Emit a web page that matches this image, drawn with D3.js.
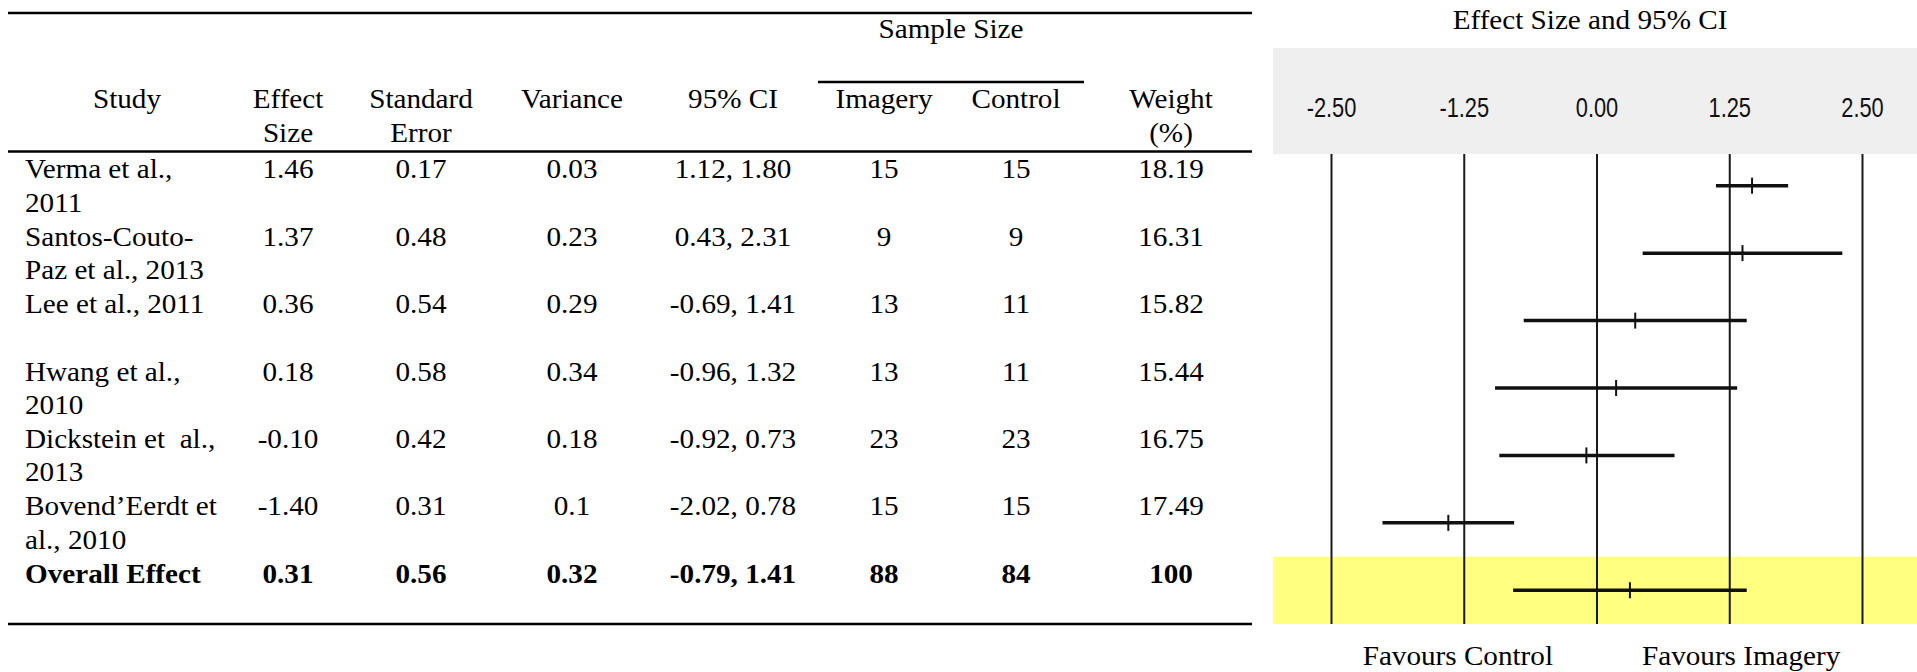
<!DOCTYPE html>
<html>
<head>
<meta charset="utf-8">
<script src="https://cdn.jsdelivr.net/npm/d3@7"></script>
<style>
  body { margin: 0; background: #fff; }
  text { font-family: "Liberation Serif", "Times New Roman", serif; font-size: 27px; fill: #000; white-space: pre; }
  .tick-label { font-family: "Liberation Sans", Arial, sans-serif; font-size: 28px; fill: #111; }
</style>
</head>
<body>
<div id="chart"></div>
<script>
// --- Data ---
const studies = [
    ["Verma et al.,", "2011"],
    ["Santos-Couto-", "Paz et al., 2013"],
    ["Lee et al., 2011"],
    ["Hwang et al.,", "2010"],
    ["Dickstein et  al.,", "2013"],
    ["Bovend\u2019Eerdt et", "al., 2010"],
    ["Overall Effect"]
];
const effectSize = [1.46, 1.37, 0.36, 0.18, -0.10, -1.40, 0.31];
const stdError = ["0.17", "0.48", "0.54", "0.58", "0.42", "0.31", "0.56"];
const variance = ["0.03", "0.23", "0.29", "0.34", "0.18", "0.1", "0.32"];
const ciText = ["1.12, 1.80", "0.43, 2.31", "-0.69, 1.41", "-0.96, 1.32", "-0.92, 0.73", "-2.02, 0.78", "-0.79, 1.41"];
const ciLower = [1.12, 0.43, -0.69, -0.96, -0.92, -2.02, -0.79];
const ciUpper = [1.80, 2.31, 1.41, 1.32, 0.73, -0.78, 1.41];
const imagery = [15, 9, 13, 13, 23, 15, 88];
const control = [15, 9, 11, 11, 23, 15, 84];
const weight = ["18.19", "16.31", "15.82", "15.44", "16.75", "17.49", "100"];
const ticks = [-2.5, -1.25, 0, 1.25, 2.5];
const tickLabels = ["-2.50", "-1.25", "0.00", "1.25", "2.50"];

// --- Layout ---
const W = 1917, H = 672;
const tableLeft = 8, tableRight = 1252;
const rowTop = 152, rowBottom = 624;
const lineGap = 33.5;
const stretch = 1.08; // the source text is a little wide

const fmt = v => (v < 0 ? "-" : "") + Math.abs(v).toFixed(2);

const svg = d3.select("#chart").append("svg")
    .attr("width", W)
    .attr("height", H);

svg.append("rect").attr("width", W).attr("height", H).attr("fill", "#fff");

// text helper, stretched horizontally around its anchor point
function label(x0, y0, t, anchor = "middle", weight = "normal") {
    return svg.append("text")
        .attr("transform", `translate(${x0},${y0}) scale(${stretch},1)`)
        .attr("text-anchor", anchor)
        .style("font-weight", weight)
        .text(t);
}

const rows = d3.range(studies.length);
const y = d3.scaleBand().domain(rows).range([rowTop, rowBottom]);
const rowMid = i => y(i) + y.bandwidth() / 2;
const baseline = i => rowMid(i) - 7.5;

// --- Table rules ---
const rule = (x1, x2, yy, w) => svg.append("line")
    .attr("x1", x1).attr("x2", x2).attr("y1", yy).attr("y2", yy)
    .attr("stroke", "#000").attr("stroke-width", w);
rule(tableLeft, tableRight, 13, 2.5);
rule(tableLeft, tableRight, 151.5, 2.5);
rule(tableLeft, tableRight, 624, 2.5);
rule(818, 1084, 82, 2.5);

// --- Table header ---
label(951, 38, "Sample Size");

const cols = [
    { x: 127, head: ["Study"] },
    { x: 288, head: ["Effect", "Size"], get: i => fmt(effectSize[i]) },
    { x: 421, head: ["Standard", "Error"], get: i => stdError[i] },
    { x: 572, head: ["Variance"], get: i => variance[i] },
    { x: 733, head: ["95% CI"], get: i => ciText[i] },
    { x: 884, head: ["Imagery"], get: i => imagery[i] },
    { x: 1016, head: ["Control"], get: i => control[i] },
    { x: 1171, head: ["Weight", "(%)"], get: i => weight[i] }
];

cols.forEach(c => {
    c.head.forEach((t, k) => label(c.x, 108 + k * lineGap, t));
});

// --- Table body ---
rows.forEach(i => {
    const bold = i === rows.length - 1 ? "bold" : "normal";
    studies[i].forEach((t, k) => label(25, baseline(i) + k * lineGap, t, "start", bold));
    cols.slice(1).forEach(c => label(c.x, baseline(i), c.get(i), "middle", bold));
});

// --- Forest plot ---
const x = d3.scaleLinear().domain([-2.5, 2.5]).range([1331.5, 1862.5]);
const plotLeft = 1273, plotRight = W;

label(1590, 29, "Effect Size and 95% CI");

// header band
svg.append("rect")
    .attr("x", plotLeft).attr("y", 48)
    .attr("width", plotRight - plotLeft).attr("height", 106)
    .attr("fill", "#efefef");

svg.selectAll(".tick-label")
    .data(ticks)
    .enter()
    .append("text")
    .attr("class", "tick-label")
    .attr("transform", d => `translate(${x(d)},117) scale(0.78,1)`)
    .attr("text-anchor", "middle")
    .text((d, i) => tickLabels[i]);

// overall row highlight
const last = rows.length - 1;
svg.append("rect")
    .attr("x", plotLeft).attr("y", y(last))
    .attr("width", plotRight - plotLeft).attr("height", rowBottom - y(last))
    .attr("fill", "#ffff80");

// reference lines
svg.selectAll(".ref")
    .data(ticks)
    .enter()
    .append("line")
    .attr("class", "ref")
    .attr("x1", d => x(d)).attr("x2", d => x(d))
    .attr("y1", 154).attr("y2", rowBottom)
    .attr("stroke", "#1a1a1a")
    .attr("stroke-width", 2);

// CI bars
svg.selectAll(".ci")
    .data(rows)
    .enter()
    .append("line")
    .attr("class", "ci")
    .attr("x1", i => x(ciLower[i])).attr("x2", i => x(ciUpper[i]))
    .attr("y1", rowMid).attr("y2", rowMid)
    .attr("stroke", "#111")
    .attr("stroke-width", 3.5);

// point estimates
svg.selectAll(".pt")
    .data(rows)
    .enter()
    .append("line")
    .attr("class", "pt")
    .attr("x1", i => x(effectSize[i])).attr("x2", i => x(effectSize[i]))
    .attr("y1", i => rowMid(i) - 8).attr("y2", i => rowMid(i) + 8)
    .attr("stroke", "#111")
    .attr("stroke-width", 2);

// favours labels
label(x(0) - 44, 665, "Favours Control", "end");
label(x(0) + 45, 665, "Favours Imagery", "start");
</script>
</body>
</html>
